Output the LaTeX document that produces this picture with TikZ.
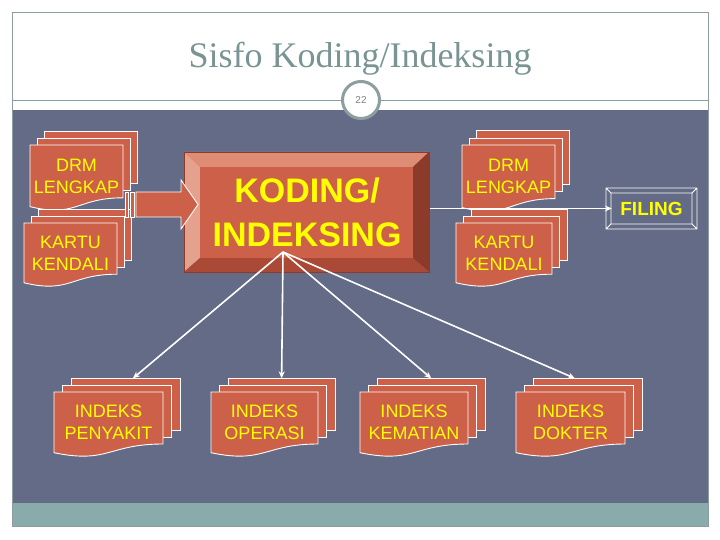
\documentclass[tikz,border=0pt]{standalone}
\usepackage{fontspec}
\setmainfont{Liberation Serif}
\setsansfont{Liberation Sans}
\usetikzlibrary{arrows.meta}

\definecolor{panel}{RGB}{99,107,134}
\definecolor{band}{RGB}{138,171,171}
\definecolor{frameline}{RGB}{140,158,158}
\definecolor{titlegray}{RGB}{122,148,148}
\definecolor{docred}{RGB}{205,96,72}
\definecolor{bevlight}{RGB}{222,140,115}
\definecolor{bevleft}{RGB}{228,162,142}
\definecolor{bevdark}{RGB}{140,58,42}
\definecolor{bevbottom}{RGB}{170,74,54}
\definecolor{docyellow}{RGB}{255,255,0}

\tikzset{
  docpaper/.style={fill=docred,draw=white,line width=0.9pt},
  doclabel/.style={text=docyellow,font=\sffamily\fontsize{18}{22}\selectfont,align=center,inner sep=0pt},
  link/.style={draw=white,line width=1.6pt,-{Stealth[length=7pt,width=6pt]}},
}

% stack of three sheets: name, x, y (front sheet, top left), width, height, text
\newcommand{\docstack}[6]{%
  \pgfmathsetmacro{\stackdx}{0.08*#4}
  \pgfmathsetmacro{\stackdy}{0.105*#5}
  \foreach \k in {2,1}{
    \draw[docpaper] (#2+\k*\stackdx,#3-\k*\stackdy) rectangle ++(#4,0.8*#5);
  }
  \draw[docpaper] (#2,#3) -- (#2+#4,#3) -- (#2+#4,#3+0.8*#5)
    .. controls (#2+0.5*#4,#3+0.8*#5) and (#2+0.5*#4,#3+1.107*#5) .. (#2,#3+0.934*#5) -- cycle;
  \coordinate (#1-top) at (#2+2*\stackdx+0.5*#4,#3-2*\stackdy);
  \node[doclabel] (#1) at (#2+0.5*#4,#3+0.47*#5) {#6};
}

\begin{document}
\begin{tikzpicture}[x=1pt,y=-1pt]
  \useasboundingbox (0,0) rectangle (720,540);
  \fill[white] (0,0) rectangle (720,540);

  % title area
  \node[anchor=base,text=titlegray,font=\fontsize{36}{40}\selectfont] (title) at (360,68) {Sisfo Koding/Indeksing};
  \draw[frameline,line width=0.8pt] (12,100) -- (708,100);
  \fill[panel] (12,110) rectangle (708,503);
  \fill[band] (12,503) rectangle (708,526);
  \draw[frameline,line width=0.8pt] (12,12) rectangle (708,526);
  \node[circle,draw=frameline,line width=3pt,fill=white,minimum size=37pt,inner sep=0pt,
        text=gray,font=\sffamily\fontsize{10}{12}\selectfont] (page) at (361,100) {22};

  % document stacks
  \docstack{drmleft}{30}{145}{93}{66}{DRM\\LENGKAP}
  \docstack{kartuleft}{24}{223}{93}{64}{KARTU\\KENDALI}
  \docstack{drmright}{462}{145}{93}{67}{DRM\\LENGKAP}
  \docstack{karturight}{456}{223}{96}{64}{KARTU\\KENDALI}
  \docstack{penyakit}{54}{392}{109}{65}{INDEKS\\PENYAKIT}
  \docstack{operasi}{211}{392}{107}{65}{INDEKS\\OPERASI}
  \docstack{kematian}{360}{392}{108}{65}{INDEKS\\KEMATIAN}
  \docstack{dokter}{516}{392}{109}{65}{INDEKS\\DOKTER}

  % bevelled process box
  \fill[bevlight] (184,152) -- (429,152) -- (413,167) -- (200,167) -- cycle;
  \fill[bevleft] (184,152) -- (200,167) -- (200,258) -- (184,272) -- cycle;
  \fill[bevdark] (429,152) -- (429,272) -- (413,258) -- (413,167) -- cycle;
  \fill[bevbottom] (184,272) -- (429,272) -- (413,258) -- (200,258) -- cycle;
  \fill[docred] (200,167) rectangle (413,258);
  \draw[bevdark,line width=0.6pt] (184,152) rectangle (429,272);
  \node[minimum width=245pt,minimum height=120pt,inner sep=0pt,align=center,text=docyellow,
        font=\sffamily\bfseries\fontsize{34}{44}\selectfont] (koding) at (307,212) {KODING/\\INDEKSING};

  % striped arrow into the box
  \draw[docpaper] (125,192) rectangle (128,217);
  \draw[docpaper] (130,192) rectangle (134.5,217);
  \draw[docpaper] (136,192) -- (181,192) -- (181,180) -- (198,204.5) -- (181,229) -- (181,217) -- (136,217) -- cycle;

  % filing box
  \draw[white,line width=0.9pt] (606,188) rectangle (697,229) (611,193) rectangle (692,224)
    (606,188) -- (611,193) (697,188) -- (692,193) (697,229) -- (692,224) (606,229) -- (611,224);
  \node[text=docyellow,font=\sffamily\bfseries\fontsize{19}{22}\selectfont] (filing) at (651.5,208.5) {FILING};

  % connectors
  \coordinate (hub) at (283,252);
  \draw[link,shorten >=5pt] (koding.east |- filing) -- (filing.west);
  \draw[link] (hub) -- ([xshift=7pt]penyakit-top);
  \draw[link] (hub) -- (operasi-top);
  \draw[link] (hub) -- (kematian-top);
  \draw[link] (hub) -- ([xshift=-13pt]dokter-top);
\end{tikzpicture}
\end{document}
